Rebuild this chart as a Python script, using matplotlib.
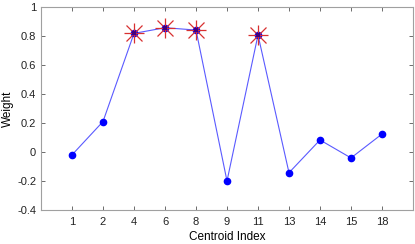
import numpy as np
import matplotlib.pyplot as plt

plt.rcParams['font.family'] = ['Liberation Sans', 'DejaVu Sans']

centroids = ['1', '2', '4', '6', '8', '9', '11', '13', '14', '15', '18']
weights = [-0.02, 0.21, 0.818, 0.857, 0.841, -0.20, 0.807, -0.143, 0.083, -0.041, 0.124]
selected = [2, 3, 4, 6]  # indices marked with red stars

x = np.arange(1, len(centroids) + 1)
w = np.array(weights)

fig = plt.figure(figsize=(4.15, 2.44), dpi=100)
ax = fig.add_axes([41/415, 34/244, 372/415, 203/244])

ax.plot(x, w, '-', color='#5a5aff', lw=0.8)
ax.plot(x, w, 'o', color='#0000ff', ms=4.5, mec='#0000ff')
ax.plot(x[selected], w[selected], '+', color='#d83030', ms=15, mew=0.9)
ax.plot(x[selected], w[selected], 'x', color='#d83030', ms=11, mew=0.9)
ax.plot(x[selected], w[selected], 's', color='#400080', ms=3, mew=0)

ax.set_xlim(0, 12)
ax.set_ylim(-0.4, 1)
ax.set_xticks(x)
ax.set_xticklabels(centroids)
ax.set_yticks(np.arange(-0.4, 1.01, 0.2))
ax.set_yticklabels(['-0.4', '-0.2', '0', '0.2', '0.4', '0.6', '0.8', '1'])
ax.tick_params(direction='in', top=True, right=True, labelsize=8, length=3,
               color='#555555', labelcolor='#222222', width=0.6)
ax.tick_params(axis='x', pad=5)
for s in ax.spines.values():
    s.set_color('#a0a0a0')
    s.set_linewidth(0.8)
ax.set_xlabel('Centroid Index', fontsize=8.5, labelpad=3)
ax.set_ylabel('Weight', fontsize=8.5, labelpad=2)

fig.savefig('out.png', dpi=100)
